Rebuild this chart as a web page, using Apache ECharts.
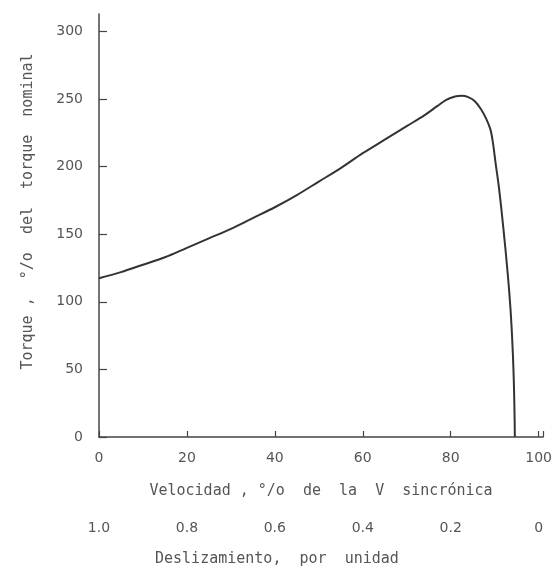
<!DOCTYPE html>
<html>
<head>
<meta charset="utf-8">
<script src="https://cdn.jsdelivr.net/npm/echarts@6/dist/echarts.min.js"></script>
<style>
html,body{margin:0;padding:0;background:#fff;}
#chart{width:556px;height:571px;}
</style>
</head>
<body>
<div id="chart"></div>
<script>
// Speed (% of synchronous speed)
var speed = [0, 5, 10, 15, 20, 25, 30, 35, 40, 45, 50, 55, 60, 65, 70, 74, 77, 79, 81, 82.5, 84, 85.5, 87, 88, 89, 89.6, 90.2, 91, 92, 93, 93.6, 94, 94.3, 94.5, 94.6];
// Torque (% of nominal torque)
var torque = [117.5, 122, 127.5, 133, 140, 147, 154, 162, 170, 179, 189, 199, 210, 220, 230, 238, 245, 249.5, 252, 252.5, 251.5, 248.5, 242, 236, 228, 218, 203, 184, 154, 120, 95, 72, 48, 22, 0];
var speedTicks = [0, 20, 40, 60, 80, 100];
var slipLabels = ['1.0', '0.8', '0.6', '0.4', '0.2', '0'];
var torqueTicks = [0, 50, 100, 150, 200, 250, 300];

var txtColor = '#555';
var lineColor = '#444';
var font = 'DejaVu Sans';
var mono = 'DejaVu Sans Mono';

var chart = echarts.init(document.getElementById('chart'));
chart.setOption({
  animation: false,
  backgroundColor: '#fff',
  title: {
    text: 'Deslizamiento,  por  unidad',
    left: 150,
    top: 547,
    textStyle: { color: txtColor, fontSize: 15, fontWeight: 'normal', fontFamily: mono }
  },
  grid: { left: 99, right: 13, top: 14, bottom: 134 },
  xAxis: [{
    type: 'value', min: 0, max: 101,
    position: 'bottom',
    name: 'Velocidad , °/o  de  la  V  sincrónica',
    nameLocation: 'middle', nameGap: 47,
    nameTextStyle: { color: txtColor, fontSize: 15, fontFamily: mono },
    splitLine: { show: false },
    axisLine: { lineStyle: { color: lineColor, width: 1.5 } },
    axisTick: { inside: true, length: 6, customValues: speedTicks.concat([101]), lineStyle: { color: lineColor, width: 1.2 } },
    axisLabel: { customValues: speedTicks, color: txtColor, fontSize: 14, fontFamily: font, margin: 14 }
  }, {
    type: 'value', min: 0, max: 101,
    position: 'bottom', offset: 70,
    splitLine: { show: false },
    axisLine: { show: false },
    axisTick: { show: false },
    axisLabel: {
      customValues: speedTicks, color: txtColor, fontSize: 14, fontFamily: font, margin: 14,
      formatter: function (v) { return slipLabels[speedTicks.indexOf(v)]; }
    }
  }],
  yAxis: {
    type: 'value', min: 0, max: 313,
    name: 'Torque ,  °/o  del  torque  nominal',
    nameLocation: 'middle', nameGap: 63,
    nameTextStyle: { color: txtColor, fontSize: 15, fontFamily: mono, padding: [0, 0, 0, 28] },
    splitLine: { show: false },
    axisLine: { show: true, lineStyle: { color: lineColor, width: 1.5 } },
    axisTick: { show: true, inside: true, length: 8, customValues: torqueTicks, lineStyle: { color: lineColor, width: 1.2 } },
    axisLabel: { customValues: torqueTicks, color: txtColor, fontSize: 14, fontFamily: font, margin: 16 }
  },
  series: [{
    type: 'line',
    xAxisIndex: 0,
    data: speed.map(function (s, i) { return [s, torque[i]]; }),
    showSymbol: false,
    smooth: 0.35,
    lineStyle: { color: '#333', width: 2 }
  }]
});
</script>
</body>
</html>
